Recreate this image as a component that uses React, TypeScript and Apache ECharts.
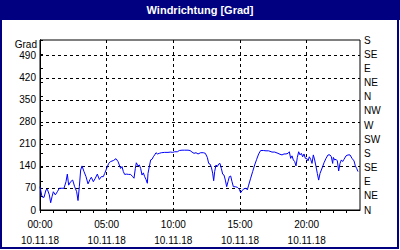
import { useEffect, useRef } from 'react';
import * as echarts from 'echarts';

const title = 'Windrichtung [Grad]';
const unitLabel = 'Grad';
const dateLabel = '10.11.18';
const compass = ['N', 'NE', 'E', 'SE', 'S', 'SW', 'W', 'NW', 'N', 'NE', 'E', 'SE', 'S'];

const hours = [
  0, 0.15, 0.3, 0.45, 0.55, 0.7, 0.8, 0.9, 1.0, 1.15, 1.3, 1.45, 1.65, 1.8, 1.95, 2.05, 2.15, 2.3, 2.45, 2.6,
  2.75, 2.85, 2.95, 3.05, 3.15, 3.3, 3.45, 3.6, 3.75, 3.85, 4.0, 4.15, 4.3, 4.45, 4.6, 4.75, 4.85, 5.0, 5.15, 5.3,
  5.5, 5.7,
  5.85, 5.95, 6.05, 6.15, 6.25, 6.35, 6.5, 6.65, 6.8, 6.95, 7.05, 7.15, 7.225, 7.35, 7.45, 7.55, 7.65, 7.75, 7.85,
  7.95, 8.05, 8.1, 8.2, 8.3, 8.4, 8.5, 8.6, 8.7, 8.8, 8.95, 9.1, 9.35, 9.6, 9.8, 9.95, 10.1, 10.3, 10.45, 10.65,
  10.85, 11.1, 11.25, 11.4, 11.55, 11.7,
  11.85, 12.05, 12.25, 12.4, 12.55, 12.65, 12.75, 12.85, 12.95, 13.025, 13.1, 13.2, 13.3, 13.4, 13.5, 13.6, 13.7,
  13.8, 13.9, 14.0, 14.1, 14.2, 14.3, 14.4, 14.5, 14.65, 14.8, 14.95, 15.05, 15.15, 15.25, 15.35, 15.45, 15.55,
  15.65, 15.8, 15.95, 16.1, 16.25, 16.4, 16.55, 16.75, 16.95, 17.15, 17.4, 17.6,
  17.85, 18.0, 18.15, 18.3, 18.45, 18.6, 18.7, 18.8, 18.9, 19.0, 19.1, 19.2, 19.3, 19.4, 19.5, 19.6, 19.7, 19.8,
  19.9, 20.0, 20.1, 20.2, 20.3, 20.4, 20.5, 20.6, 20.7, 20.8, 20.9, 21.0, 21.1, 21.2, 21.3, 21.45, 21.6, 21.75,
  21.85, 21.95, 22.0, 22.1, 22.2, 22.3, 22.4, 22.5, 22.6, 22.7, 22.8, 22.95, 23.1, 23.25, 23.4, 23.55, 23.65,
  23.75, 23.85,
];

const degrees = [
  74, 42, 40, 64, 66, 48, 23, 42, 58, 48, 58, 69, 69, 69, 90, 114, 79, 90, 95, 74,
  58, 30, 74, 127, 140, 122, 106, 83, 97, 104, 90, 101, 114, 97, 106, 106, 116, 132, 148, 154,
  157, 163,
  154, 143, 132, 138, 122, 113, 114, 113, 113, 106, 101, 132, 150, 140, 143, 132, 111, 118, 106,
  97, 85, 116, 138, 159, 161, 169, 175, 182, 178, 180, 182, 183, 183, 184, 183, 185, 185, 189, 190,
  190, 190, 189, 184, 180, 182,
  178, 182, 182, 180, 167, 148, 146, 136, 117, 93, 122, 143, 138, 146, 148, 132, 114,
  111, 95, 74, 90, 106, 108, 90, 74, 74, 72, 66, 55, 61, 66, 68, 69, 64,
  79, 101, 122, 143, 161, 178, 189, 189, 188, 188, 184, 184,
  180, 177, 175, 178, 178, 180, 185, 164, 172, 159, 154, 140, 167, 185, 175, 180, 169, 178,
  164, 164, 156, 169, 161, 148, 175, 159, 138, 116, 95, 116, 127, 138, 150, 164, 175, 175,
  169, 148, 167, 159, 161, 156, 124, 148, 159, 154, 161, 172, 175, 175, 164, 156, 140,
  132, 122,
];

const FONT = '"Liberation Sans", Arial, sans-serif';

export default function App() {
  const ref = useRef<HTMLDivElement>(null);

  useEffect(() => {
    const chart = echarts.init(ref.current as HTMLDivElement, null, { renderer: 'svg' });
    const dashed = { color: '#000', width: 1, type: [3, 3] as number[] };
    chart.setOption({
      animation: false,
      backgroundColor: '#fff',
      grid: {
        left: 40, right: 40, top: 40, bottom: 40,
        show: true, borderColor: '#000', borderWidth: 1, backgroundColor: 'transparent',
      },
      xAxis: [
        {
          type: 'value', min: 0, max: 24, interval: 1, position: 'bottom',
          axisLine: { show: true, lineStyle: { color: '#000', width: 1 } },
          axisTick: { show: true, length: 3, lineStyle: { color: '#000' } },
          axisLabel: {
            showMaxLabel: false,
            color: '#000', fontSize: 10, fontFamily: FONT, lineHeight: 16, margin: 6,
            formatter: (v: number) =>
              v % 5 === 0 && v < 24 ? `${String(v).padStart(2, '0')}:00\n${dateLabel}` : '',
          },
          splitLine: { show: false },
        },
        {
          type: 'value', min: 0, max: 24, interval: 5, position: 'bottom',
          axisLine: { show: false }, axisTick: { show: false }, axisLabel: { show: false },
          splitLine: { show: true, showMinLine: false, showMaxLine: false, lineStyle: dashed },
        },
      ],
      yAxis: [
        {
          type: 'value', min: 0, max: 540, interval: 70, position: 'left',
          axisLine: { show: true, lineStyle: { color: '#000', width: 1 } },
          axisTick: { show: false },
          axisLabel: { showMaxLabel: false, color: '#000', fontSize: 10, fontFamily: FONT, margin: 4 },
          splitLine: { show: true, showMinLine: false, showMaxLine: false, lineStyle: dashed },
        },
        {
          type: 'value', min: 0, max: 540, interval: 45, position: 'right',
          axisLine: { show: true, lineStyle: { color: '#000', width: 1 } },
          axisTick: { show: true, length: 3, lineStyle: { color: '#000' } },
          axisLabel: {
            color: '#000', fontSize: 10, fontFamily: FONT, margin: 4,
            formatter: (v: number) => compass[Math.round(v / 45)] ?? '',
          },
          splitLine: { show: false },
        },
      ],
      series: [
        {
          type: 'line',
          xAxisIndex: 0,
          yAxisIndex: 0,
          data: hours.map((h, i) => [h, degrees[i]]),
          showSymbol: false,
          symbol: 'none',
          lineStyle: { color: '#0000ff', width: 1 },
          itemStyle: { color: '#0000ff' },
        },
      ],
      graphic: [
        { type: 'rect', shape: { x: 0, y: 0, width: 400, height: 20 }, style: { fill: '#000080' }, z: 10 },
        {
          type: 'text', x: 200, y: 10, z: 11,
          style: {
            text: title, fill: '#fff', font: `bold 11px ${FONT}`,
            align: 'center', verticalAlign: 'middle', textAlign: 'center', textVerticalAlign: 'middle',
          },
        },
        {
          type: 'rect', shape: { x: 1, y: 1, width: 397, height: 247 }, z: 10,
          style: { fill: 'none', stroke: '#000080', lineWidth: 2 },
        },
        {
          type: 'text', x: 37, y: 44, z: 11,
          style: {
            text: unitLabel, fill: '#000', font: `10px ${FONT}`,
            align: 'right', verticalAlign: 'middle', textAlign: 'right', textVerticalAlign: 'middle',
          },
        },
      ],
    });
    return () => chart.dispose();
  }, []);

  return (
    <div
      ref={ref}
      style={{ position: 'absolute', left: 0, top: 0, width: 400, height: 250, background: '#fff' }}
    />
  );
}
